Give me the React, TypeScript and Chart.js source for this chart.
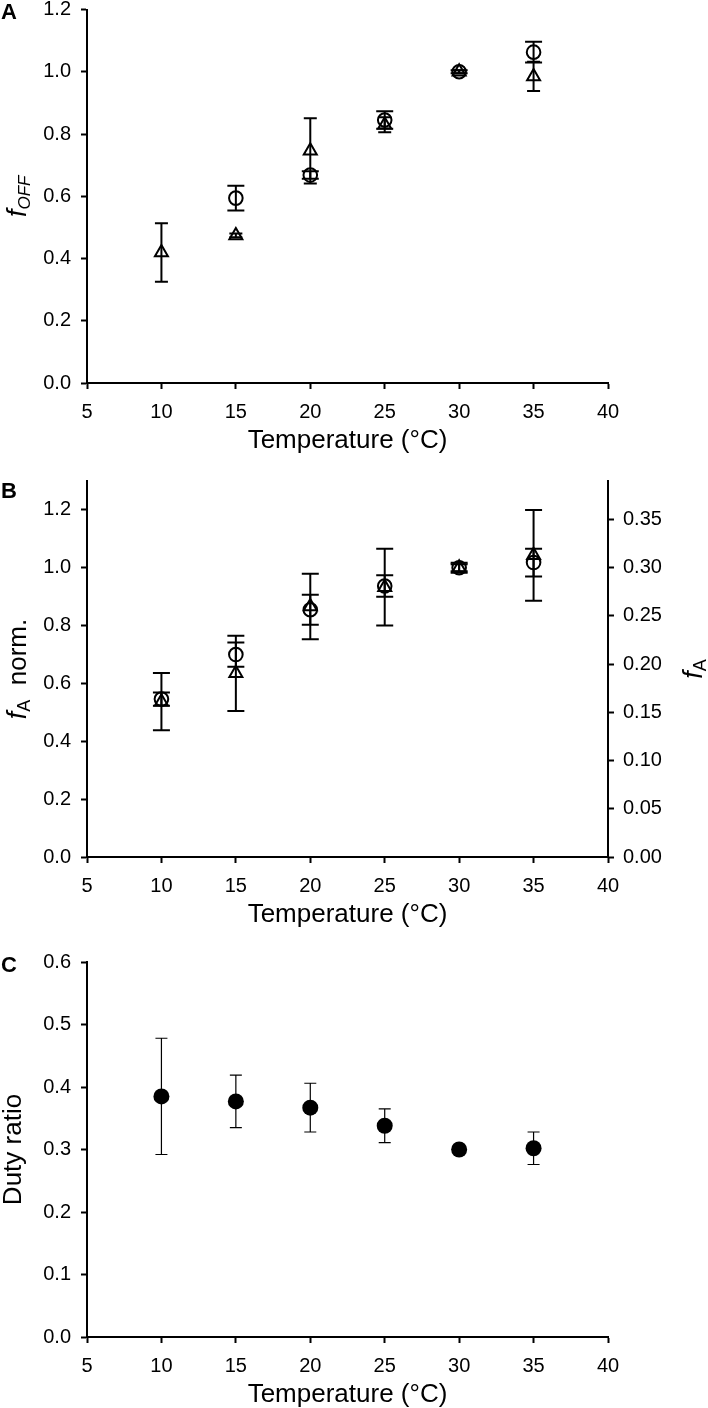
import React, { useEffect, useRef } from "react";
import { Chart, registerables } from "chart.js";

Chart.register(...registerables);

// ---------- data ----------
const xTickValues = [5, 10, 15, 20, 25, 30, 35, 40];

// Panel A: f_OFF
const offCircleTemp = [15, 20, 25, 30, 35];
const offCircleVal = [0.594, 0.668, 0.845, 1.0, 1.063];
const offCircleErr = [0.04, 0.012, 0.028, 0.005, 0.033];
const offTriTemp = [10, 15, 20, 25, 30, 35];
const offTriVal = [0.419, 0.474, 0.746, 0.83, 1.0, 0.985];
const offTriErr = [0.094, 0.006, 0.105, 0.024, 0.005, 0.047];

// Panel B: f_A norm.
const normTemp = [10, 15, 20, 25, 30, 35];
const normCircleVal = [0.546, 0.7, 0.855, 0.937, 1.0, 1.018];
const normCircleErr = [0.023, 0.042, 0.052, 0.037, 0.017, 0.048];
const normTriVal = [0.537, 0.635, 0.866, 0.933, 1.0, 1.043];
const normTriErr = [0.099, 0.13, 0.113, 0.133, 0.012, 0.157];

// Panel C: duty ratio
const dutyTemp = [10, 15, 20, 25, 30, 35];
const dutyVal = [0.385, 0.377, 0.367, 0.338, 0.3, 0.302];
const dutyErr = [0.093, 0.042, 0.039, 0.027, 0, 0.026];

const FONT = "'Liberation Sans', Arial, Helvetica, sans-serif";

type Part = { text: string; italic?: boolean; size: number; shift?: number };

function drawRotated(ctx: CanvasRenderingContext2D, parts: Part[], baseX: number, cy: number) {
  ctx.save();
  let total = 0;
  const widths = parts.map((p) => {
    ctx.font = `${p.italic ? "italic " : ""}${p.size}px ${FONT}`;
    const w = ctx.measureText(p.text).width;
    total += w;
    return w;
  });
  ctx.translate(baseX, cy);
  ctx.rotate(-Math.PI / 2);
  ctx.fillStyle = "#000";
  ctx.textBaseline = "alphabetic";
  ctx.textAlign = "left";
  let x = -total / 2;
  parts.forEach((p, i) => {
    ctx.font = `${p.italic ? "italic " : ""}${p.size}px ${FONT}`;
    ctx.fillText(p.text, x, p.shift || 0);
    x += widths[i];
  });
  ctx.restore();
}

type Spec = {
  letter: string;
  letterBaseline: number;
  yParts: Part[];
  yLabelX: number;
  y1Parts?: Part[];
  y1LabelX?: number;
};

function makePlugin(spec: Spec) {
  return {
    id: "decor",
    beforeDatasetsDraw(chart: any) {
      const ctx = chart.ctx as CanvasRenderingContext2D;
      chart.data.datasets.forEach((ds: any, i: number) => {
        const errs: number[] | undefined = ds.errors;
        if (!errs) return;
        const meta = chart.getDatasetMeta(i);
        const xs = chart.scales[meta.xAxisID];
        const ys = chart.scales[meta.yAxisID];
        ctx.save();
        ctx.strokeStyle = "#000";
        ctx.lineWidth = ds.errLineWidth || 2;
        const half = (ds.capWidth || 16) / 2;
        ds.data.forEach((pt: any, j: number) => {
          const e = errs[j];
          if (!e) return;
          const px = xs.getPixelForValue(pt.x);
          const top = ys.getPixelForValue(pt.y + e);
          const bot = ys.getPixelForValue(pt.y - e);
          ctx.beginPath();
          ctx.moveTo(px, top);
          ctx.lineTo(px, bot);
          ctx.moveTo(px - half, top);
          ctx.lineTo(px + half, top);
          ctx.moveTo(px - half, bot);
          ctx.lineTo(px + half, bot);
          ctx.stroke();
        });
        ctx.restore();
      });
    },
    afterDraw(chart: any) {
      const ctx = chart.ctx as CanvasRenderingContext2D;
      const ca = chart.chartArea;
      ctx.save();
      ctx.fillStyle = "#000";
      // panel letter
      ctx.font = `bold 22px ${FONT}`;
      ctx.textAlign = "left";
      ctx.textBaseline = "alphabetic";
      ctx.fillText(spec.letter, 1, spec.letterBaseline);
      // x title
      ctx.font = `26px ${FONT}`;
      ctx.textAlign = "center";
      ctx.fillText("Temperature (\u00B0C)", (ca.left + ca.right) / 2, ca.bottom + 65);
      ctx.restore();
      const cy = (ca.top + ca.bottom) / 2;
      drawRotated(ctx, spec.yParts, spec.yLabelX, cy);
      if (spec.y1Parts && spec.y1LabelX) drawRotated(ctx, spec.y1Parts, spec.y1LabelX, cy);
    },
  };
}

function openCircle(label: string, xs: number[], ys: number[], errs: number[], cap: number) {
  return {
    label,
    data: xs.map((x, i) => ({ x, y: ys[i] })),
    errors: errs,
    capWidth: cap,
    errLineWidth: 2,
    pointStyle: "circle",
    pointRadius: 6.8,
    pointBorderWidth: 2,
    pointBorderColor: "#000",
    pointBackgroundColor: "rgba(0,0,0,0)",
    showLine: false,
  };
}

function openTriangle(label: string, xs: number[], ys: number[], errs: number[], cap: number) {
  return {
    label,
    data: xs.map((x, i) => ({ x, y: ys[i] })),
    errors: errs,
    capWidth: cap,
    errLineWidth: 2,
    pointStyle: "triangle",
    pointRadius: 7.5,
    pointBorderWidth: 2,
    pointBorderColor: "#000",
    pointBackgroundColor: "rgba(0,0,0,0)",
    showLine: false,
  };
}

function axisCommon() {
  return {
    border: { display: true, color: "#000", width: 2 },
    grid: { display: true, drawOnChartArea: false, drawTicks: true, tickLength: 6, tickWidth: 2, tickColor: "#000" },
  };
}

function xScale(height: number) {
  return {
    type: "linear",
    position: "bottom",
    min: 5,
    max: 40,
    afterBuildTicks: (s: any) => {
      s.ticks = xTickValues.map((v) => ({ value: v }));
    },
    afterFit: (s: any) => {
      s.height = height;
    },
    ticks: {
      color: "#000",
      font: { family: FONT, size: 20 },
      padding: 11,
      maxRotation: 0,
      callback: (v: any) => String(v),
    },
    ...axisCommon(),
  };
}

function yScale(max: number, step: number, decimals: number, position: string, width: number, padding: number) {
  return {
    type: "linear",
    position,
    min: 0,
    max,
    afterFit: (s: any) => {
      s.width = width;
      s.paddingTop = 0;
      s.paddingBottom = 0;
    },
    ticks: {
      stepSize: step,
      includeBounds: false,
      color: "#000",
      font: { family: FONT, size: 20 },
      padding,
      callback: (v: any) => Number(v).toFixed(decimals),
    },
    ...axisCommon(),
  };
}

function PanelChart({ top, height, config }: { top: number; height: number; config: any }) {
  const ref = useRef<HTMLCanvasElement | null>(null);
  useEffect(() => {
    if (!ref.current) return;
    const chart = new Chart(ref.current, config);
    return () => chart.destroy();
  }, []);
  return (
    <canvas
      ref={ref}
      width={708}
      height={height}
      style={{ position: "absolute", left: 0, top, width: 708, height }}
    />
  );
}

function baseOptions(padTop: number, padRight: number, scales: any) {
  return {
    responsive: false,
    animation: false,
    devicePixelRatio: 1,
    layout: { padding: { top: padTop, right: padRight, left: 0, bottom: 0 } },
    plugins: { legend: { display: false }, tooltip: { enabled: false }, title: { display: false } },
    scales,
  };
}

const configA = {
  type: "scatter",
  data: {
    datasets: [
      openCircle("Circle", offCircleTemp, offCircleVal, offCircleErr, 17),
      openTriangle("Triangle", offTriTemp, offTriVal, offTriErr, 13),
    ],
  },
  options: baseOptions(8, 100, {
    x: xScale(77),
    y: yScale(1.2, 0.2, 1, "left", 87, 10),
  }),
  plugins: [
    makePlugin({
      letter: "A",
      letterBaseline: 19,
      yParts: [
        { text: "f", italic: true, size: 27 },
        { text: "OFF", italic: true, size: 17, shift: 4 },
      ],
      yLabelX: 26,
    }),
  ],
};

const configB = {
  type: "scatter",
  data: {
    datasets: [
      openCircle("Circle", normTemp, normCircleVal, normCircleErr, 17),
      openTriangle("Triangle", normTemp, normTriVal, normTriErr, 17),
    ],
  },
  options: baseOptions(21, 0, {
    x: xScale(83),
    y: yScale(1.3, 0.2, 1, "left", 87, 10),
    y1: yScale(0.39, 0.05, 2, "right", 100, 9),
  }),
  plugins: [
    makePlugin({
      letter: "B",
      letterBaseline: 38,
      yParts: [
        { text: "f", italic: true, size: 27 },
        { text: "A", size: 18, shift: 4 },
        { text: "  norm.", size: 26 },
      ],
      yLabelX: 26,
      y1Parts: [
        { text: "f", italic: true, size: 27 },
        { text: "A", size: 18, shift: 4 },
      ],
      y1LabelX: 702,
    }),
  ],
};

const configC = {
  type: "scatter",
  data: {
    datasets: [
      {
        label: "Duty ratio",
        data: dutyTemp.map((x, i) => ({ x, y: dutyVal[i] })),
        errors: dutyErr,
        capWidth: 12,
        errLineWidth: 1.2,
        pointStyle: "circle",
        pointRadius: 8,
        pointBorderWidth: 0,
        pointBackgroundColor: "#000",
        pointBorderColor: "#000",
        showLine: false,
      },
    ],
  },
  options: baseOptions(42, 100, {
    x: xScale(71),
    y: yScale(0.6, 0.1, 1, "left", 87, 10),
  }),
  plugins: [
    makePlugin({
      letter: "C",
      letterBaseline: 52,
      yParts: [{ text: "Duty ratio", size: 26 }],
      yLabelX: 21,
    }),
  ],
};

export default function App() {
  return (
    <div style={{ position: "absolute", left: 0, top: 0, width: 708, height: 1408, background: "#fff" }}>
      <PanelChart top={0} height={460} config={configA} />
      <PanelChart top={460} height={480} config={configB} />
      <PanelChart top={920} height={488} config={configC} />
    </div>
  );
}
